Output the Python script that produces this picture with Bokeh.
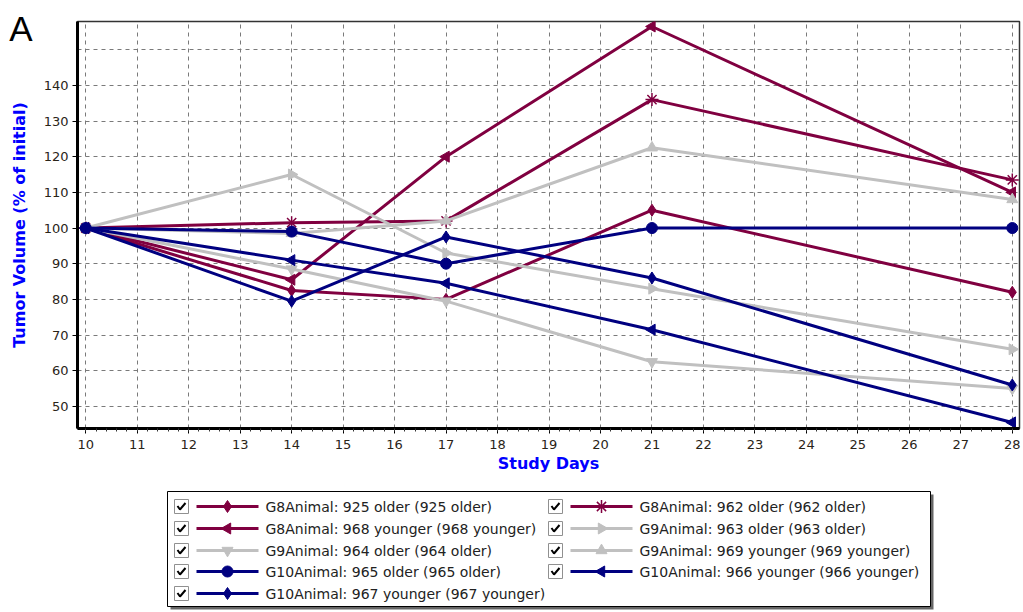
import math
from bokeh.plotting import figure
from bokeh.layouts import column
from bokeh.models import Range1d, FixedTicker, SingleIntervalTicker, LinearAxis
from bokeh.embed import file_html
from bokeh.resources import INLINE
from bokeh.core.properties import value

# ---------------- data ----------------
days = [10, 14, 17, 21, 28]
g8_925 = [100, 82.5, 80, 105, 82]
g8_962 = [100, 101.5, 102, 136, 113.5]
g8_968 = [100, 85.5, 120, 156.5, 110]
g9_963 = [100, 115, 93, 83, 66]
g9_964 = [100, 88.5, 79.5, 62.5, 55]
g9_969 = [100, 98.5, 102, 122.5, 108]
g10_965 = [100, 99, 90, 100, 100]
g10_966 = [100, 91, 84.5, 71.5, 45.5]
g10_967 = [100, 79.5, 97.5, 86, 56]

series_labels = [
    "G8Animal: 925 older (925 older)",
    "G8Animal: 962 older (962 older)",
    "G8Animal: 968 younger (968 younger)",
    "G9Animal: 963 older (963 older)",
    "G9Animal: 964 older (964 older)",
    "G9Animal: 969 younger (969 younger)",
    "G10Animal: 965 older (965 older)",
    "G10Animal: 966 younger (966 younger)",
    "G10Animal: 967 younger (967 younger)",
]
series_values = [g8_925, g8_962, g8_968, g9_963, g9_964, g9_969, g10_965, g10_966, g10_967]
y_ticks = [50, 60, 70, 80, 90, 100, 110, 120, 130, 140]
y_grid = [50, 60, 70, 80, 90, 100, 110, 120, 130, 140, 150]
panel_letter = "A"

# ---------------- styles ----------------
MAROON = "#800040"
GRAY = "#C0C0C0"
NAVY = "#000080"
colors = [MAROON, MAROON, MAROON, GRAY, GRAY, GRAY, NAVY, NAVY, NAVY]
markers = ["diamond", "asterisk", "triangle", "triangle", "inverted_triangle",
           "triangle", "circle", "triangle", "diamond"]
angles = [0, 0, math.pi / 2, -math.pi / 2, 0, 0, 0, math.pi / 2, 0]
sizes = [12, 13, 11, 11, 11, 11, 11, 11, 12]

FONT = "DejaVu Sans"
X0, X1 = 9.84, 28.14
Y0, Y1 = 43.8, 157.9
BL, BR, BT, BB = 77, 4, 21, 52
W, H = 1023, 480
LETTER_Y = 156  # vertical anchor of the panel letter, in y-axis units (top-left corner)

# ---------------- main chart ----------------
p = figure(width=W, height=H, output_backend="svg", toolbar_location=None,
           x_range=Range1d(X0, X1), y_range=Range1d(Y0, Y1),
           min_border_left=BL, min_border_right=BR, min_border_top=BT, min_border_bottom=BB)
p.background_fill_color = "white"
p.outline_line_color = "#333333"
p.outline_line_width = 1.5

p.xaxis.ticker = SingleIntervalTicker(interval=1, num_minor_ticks=5)
p.yaxis.ticker = FixedTicker(ticks=y_ticks)
p.xgrid.ticker = SingleIntervalTicker(interval=1)
p.ygrid.ticker = FixedTicker(ticks=y_grid)
for g in (p.xgrid, p.ygrid):
    g.grid_line_color = "#7a7a7a"
    g.grid_line_dash = "4 4"
    g.grid_line_width = 1

for ax in (p.xaxis, p.yaxis):
    ax.axis_line_color = "black"
    ax.axis_line_width = 3
    ax.major_tick_line_color = "black"
    ax.major_tick_in = 0
    ax.major_tick_out = 5
    ax.major_label_text_font = FONT
    ax.major_label_text_font_size = "13px"
    ax.major_label_text_color = "#2a2418"
p.xaxis.minor_tick_line_color = "#333333"
p.xaxis.minor_tick_in = 0
p.xaxis.minor_tick_out = 3
p.yaxis.minor_tick_line_color = None
p.xaxis.axis_label = "Study Days"
p.xaxis.axis_label_text_font = FONT
p.xaxis.axis_label_text_font_style = "bold"
p.xaxis.axis_label_text_font_size = "16px"
p.xaxis.axis_label_text_color = "#0000FF"
p.xaxis.axis_label_standoff = 2
p.xaxis.major_label_standoff = 6
p.yaxis.major_label_standoff = 4

# outer left axis: carries the panel letter (as its single tick label) and the y title
outer = LinearAxis(ticker=FixedTicker(ticks=[LETTER_Y]),
                   major_label_overrides={LETTER_Y: panel_letter})
outer.axis_line_color = None
outer.major_tick_line_color = None
outer.minor_tick_line_color = None
outer.major_tick_in = 0
outer.major_tick_out = 0
outer.major_label_standoff = 8
outer.major_label_text_font = "Liberation Sans"
outer.major_label_text_font_size = "35px"
outer.major_label_text_color = "black"
outer.axis_label = "Tumor Volume (% of initial)"
outer.axis_label_text_font = FONT
outer.axis_label_text_font_style = "bold"
outer.axis_label_text_font_size = "16px"
outer.axis_label_text_color = "#0000FF"
outer.axis_label_standoff = -23
p.add_layout(outer, "left")

for vals, c, m, a, s in zip(series_values, colors, markers, angles, sizes):
    p.line(days, vals, line_color=c, line_width=3)
    if m == "asterisk":
        p.scatter(days, vals, marker=m, size=s, line_color=c, line_width=1.5)
    else:
        p.scatter(days, vals, marker=m, size=s, fill_color=c, line_color=c, angle=a)

# ---------------- legend (drawn as its own panel, page-pixel coordinates) ----------------
LH = 132
leg = figure(width=W, height=LH, output_backend="svg", toolbar_location=None,
             x_range=Range1d(BL, W - BR), y_range=Range1d(LH, 0),
             x_axis_type=None, y_axis_type=None,
             min_border_left=BL, min_border_right=BR, min_border_top=0, min_border_bottom=0)
leg.grid.visible = False
leg.outline_line_color = None
leg.background_fill_color = "white"

# box + shadow
leg.quad(left=[170], right=[933], top=[14], bottom=[129], fill_color="#666666", line_color=None)
leg.quad(left=[167], right=[930], top=[11], bottom=[126], fill_color="white",
         line_color="black", line_width=1)

col_x = [181, 555]
row_y = [26, 48, 70, 91, 113]
cb_x, cb_y, ln_x0, ln_x1, mk_x, tx_x, it_y = [], [], [], [], [], [], []
for i, lab in enumerate(series_labels):
    c = i % 2
    r = i // 2
    x0 = col_x[c]
    y0 = row_y[r]
    cb_x.append(x0)
    cb_y.append(y0)
    ln_x0.append(x0 + 15)
    ln_x1.append(x0 + 77)
    mk_x.append(x0 + 46)
    tx_x.append(x0 + 84)
    it_y.append(y0)

leg.rect(x=cb_x, y=cb_y, width=14, height=14, fill_color="white",
         line_color="#909090", line_width=1)
leg.multi_line(xs=[[x - 4, x - 1.5, x + 4] for x in cb_x],
               ys=[[y - 0.5, y + 3, y - 3.5] for y in cb_y],
               line_color="black", line_width=2)
leg.segment(x0=ln_x0, y0=it_y, x1=ln_x1, y1=it_y, line_color=colors, line_width=3)
for xm, ym, c, m, a, s in zip(mk_x, it_y, colors, markers, angles, sizes):
    if m == "asterisk":
        leg.scatter([xm], [ym], marker=m, size=s, line_color=c, line_width=1.5)
    else:
        leg.scatter([xm], [ym], marker=m, size=s, fill_color=c, line_color=c, angle=a)
leg.text(x=tx_x, y=it_y, text=series_labels, text_font=value(FONT),
         text_font_size="14px", text_color="#222222", text_baseline="middle")

layout = column(p, leg, spacing=0)
open("out.html", "w").write(file_html(layout, INLINE))
